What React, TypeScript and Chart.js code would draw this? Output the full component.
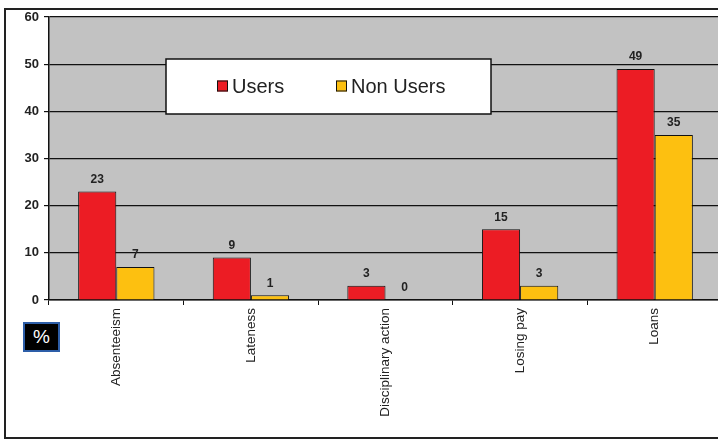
import React, { useEffect, useRef } from "react";
import { Chart, registerables } from "chart.js";

Chart.register(...registerables);

const categories = ["Absenteeism", "Lateness", "Disciplinary action", "Losing pay", "Loans"];
const usersValues = [23, 9, 3, 15, 49];
const nonUsersValues = [7, 1, 0, 3, 35];
const seriesNames = ["Users", "Non Users"];
const seriesColors = ["#ec1c24", "#fdc010"];
const yMin = 0;
const yMax = 60;
const yStep = 10;

const FONT = "'Liberation Sans', Arial, sans-serif";

const bgPlugin = {
  id: "plotBg",
  beforeDraw(chart: any) {
    const { ctx, chartArea } = chart;
    ctx.save();
    ctx.fillStyle = "#c2c2c2";
    ctx.fillRect(chartArea.left, chartArea.top, chartArea.right - chartArea.left, chartArea.bottom - chartArea.top);
    ctx.restore();
  },
};

const labelPlugin = {
  id: "valueLabels",
  afterDatasetsDraw(chart: any) {
    const { ctx } = chart;
    ctx.save();
    ctx.font = `bold 12px ${FONT}`;
    ctx.fillStyle = "#222";
    ctx.textAlign = "center";
    ctx.textBaseline = "bottom";
    chart.data.datasets.forEach((ds: any, i: number) => {
      const meta = chart.getDatasetMeta(i);
      meta.data.forEach((el: any, j: number) => {
        ctx.fillText(String(ds.data[j]), el.x, el.y - 6);
      });
    });
    ctx.restore();
  },
};

const legendPlugin = {
  id: "boxLegend",
  afterDraw(chart: any) {
    const { ctx, chartArea } = chart;
    const x0 = chartArea.left + 117;
    const y0 = chartArea.top + 42;
    const w = 325;
    const h = 55;
    ctx.save();
    ctx.fillStyle = "#ffffff";
    ctx.fillRect(x0, y0, w, h);
    ctx.strokeStyle = "#111";
    ctx.lineWidth = 1.5;
    ctx.strokeRect(x0, y0, w, h);
    ctx.font = `20px ${FONT}`;
    ctx.textBaseline = "middle";
    const items = chart.data.datasets;
    const starts = [x0 + 51, x0 + 170];
    items.forEach((ds: any, i: number) => {
      const sx = starts[i];
      const cy = y0 + h / 2;
      ctx.fillStyle = ds.backgroundColor;
      ctx.fillRect(sx, cy - 6, 11, 11);
      ctx.strokeStyle = "#111";
      ctx.lineWidth = 1;
      ctx.strokeRect(sx + 0.5, cy - 5.5, 10, 10);
      ctx.fillStyle = "#222";
      ctx.textAlign = "left";
      ctx.fillText(ds.label, sx + 15, cy + 1);
    });
    ctx.restore();
  },
};

export default function App() {
  const ref = useRef<HTMLCanvasElement | null>(null);

  useEffect(() => {
    document.body.style.margin = "0";
    const canvas = ref.current!;
    const chart = new Chart(canvas, {
      type: "bar",
      data: {
        labels: categories,
        datasets: [
          {
            label: seriesNames[0],
            data: usersValues,
            backgroundColor: seriesColors[0],
            borderColor: "#111",
            borderWidth: 1,
            categoryPercentage: 0.567,
            barPercentage: 1,
          },
          {
            label: seriesNames[1],
            data: nonUsersValues,
            backgroundColor: seriesColors[1],
            borderColor: "#111",
            borderWidth: 1,
            categoryPercentage: 0.567,
            barPercentage: 1,
          },
        ],
      },
      options: {
        animation: false,
        responsive: false,
        maintainAspectRatio: false,
        devicePixelRatio: 1,
        layout: { padding: { top: 17, left: 0, right: 0, bottom: 0 } },
        plugins: {
          legend: { display: false },
          tooltip: { enabled: false },
        },
        scales: {
          x: {
            offset: true,
            afterFit: (s: any) => {
              s.height = 142;
            },
            grid: {
              display: true,
              drawOnChartArea: false,
              drawTicks: true,
              tickLength: 5,
              color: "#111",
              offset: true,
            },
            border: { display: true, color: "#111", width: 1.5 },
            ticks: {
              autoSkip: false,
              maxRotation: 90,
              minRotation: 90,
              padding: 3,
              color: "#222",
              font: { family: FONT, size: 13.5 },
            },
          },
          y: {
            min: yMin,
            max: yMax,
            afterFit: (s: any) => {
              s.width = 49;
            },
            ticks: {
              stepSize: yStep,
              padding: 5,
              color: "#222",
              font: { family: FONT, size: 13, weight: "bold" },
            },
            grid: {
              color: "#111",
              lineWidth: 1.2,
              drawTicks: true,
              tickLength: 5,
            },
            border: { display: true, color: "#111", width: 1.5 },
          },
        },
      },
      plugins: [bgPlugin, labelPlugin, legendPlugin],
    });
    return () => chart.destroy();
  }, []);

  return (
    <div style={{ position: "relative", width: 718, height: 442, overflow: "hidden", background: "#fff" }}>
      <canvas ref={ref} width={722} height={442} style={{ position: "absolute", left: 0, top: 0, width: 722, height: 442 }} />
      <div
        style={{
          position: "absolute",
          left: 4,
          top: 8,
          width: 760,
          height: 431,
          border: "2px solid #222",
          boxSizing: "border-box",
          pointerEvents: "none",
        }}
      />
      <div
        style={{
          position: "absolute",
          left: 23,
          top: 322,
          width: 37,
          height: 30,
          boxSizing: "border-box",
          background: "#000",
          border: "2px solid #2d5ea8",
          color: "#fff",
          fontFamily: FONT,
          fontSize: 19,
          lineHeight: "26px",
          textAlign: "center",
        }}
      >
        %
      </div>
    </div>
  );
}
